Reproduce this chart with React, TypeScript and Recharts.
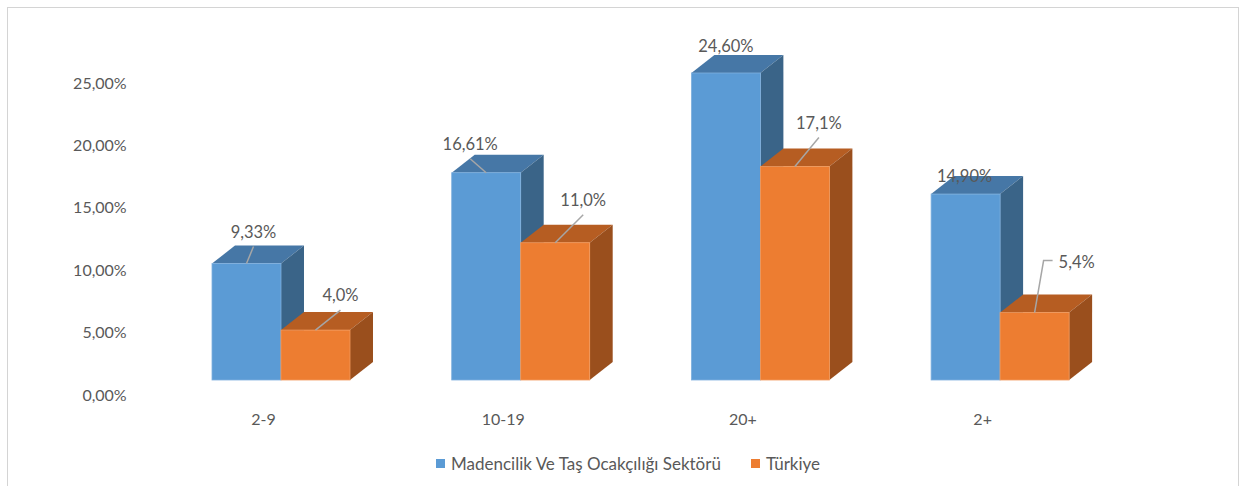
import React from "react";
import { BarChart, Bar, XAxis, YAxis, Legend, LabelList } from "recharts";

// ---- data ----
const categories = ["2-9", "10-19", "20+", "2+"];
const madencilik = [9.33, 16.61, 24.6, 14.9];
const turkiye = [4.0, 11.0, 17.1, 5.4];
const yTicks = [0, 5, 10, 15, 20, 25];
const seriesNames = ["Madencilik Ve Taş Ocakçılığı Sektörü", "Türkiye"];

const data = categories.map((c, i) => ({ cat: c, mad: madencilik[i], tr: turkiye[i] }));

// ---- styling ----
const FONT = "Lato, 'Open Sans', sans-serif";
const TEXT = "#595959";
const DX = 23;
const DY = 18;
const PAL = {
  blue: { front: "#5B9BD5", top: "#4677A6", side: "#3A6488", edge: "#7FB0DE" },
  orange: { front: "#ED7D31", top: "#B65D22", side: "#9A4F1D", edge: "#F29A5C" },
};

// per-label placement (offset of label centre from the front-top-centre of the bar)
const blueLabelPos = [
  { dx: 7, dy: -32, leader: "below" },
  { dx: -16, dy: -29, leader: "below" },
  { dx: 0, dy: -27, leader: "none" },
  { dx: -1, dy: -18, leader: "none" },
];
const orangeLabelPos = [
  { dx: 25, dy: -35, leader: "below" },
  { dx: 28, dy: -43, leader: "below" },
  { dx: 24, dy: -44, leader: "below" },
  { dx: 42, dy: -51, leader: "elbow" },
];

const Box3D = (props: any) => {
  const { x, y, width, height, pal } = props;
  if (width == null || height == null) return null;
  const x2 = x + width;
  const yb = y + height;
  return (
    <g>
      <polygon
        points={`${x},${y} ${x2},${y} ${x2 + DX},${y - DY} ${x + DX},${y - DY}`}
        fill={pal.top}
      />
      <polygon
        points={`${x2},${y} ${x2 + DX},${y - DY} ${x2 + DX},${yb - DY} ${x2},${yb}`}
        fill={pal.side}
      />
      <rect x={x} y={y} width={width} height={height} fill={pal.front} stroke={pal.edge} strokeWidth={0.8} />
    </g>
  );
};

const fmt = (v: number, d: number) => v.toFixed(d).replace(".", ",") + "%";

const DataLabel = (props: any) => {
  const { x, y, width, value, index, positions, decimals } = props;
  const pos = positions[index];
  const ax = x + width / 2;
  const ay = y;
  const cx = ax + pos.dx;
  const cy = ay + pos.dy;
  let leader: React.ReactNode = null;
  if (pos.leader === "below") {
    leader = <line x1={ax} y1={ay} x2={cx} y2={cy + 15} stroke="#A6A6A6" strokeWidth={1.5} />;
  } else if (pos.leader === "elbow") {
    leader = (
      <polyline
        points={`${ax},${ay} ${ax + 9},${cy - 1} ${ax + 18},${cy - 1}`}
        fill="none"
        stroke="#A6A6A6"
        strokeWidth={1.5}
      />
    );
  }
  const isElbow = pos.leader === "elbow";
  return (
    <g>
      {leader}
      <text
        x={isElbow ? ax + 24 : cx}
        y={cy}
        textAnchor={isElbow ? "start" : "middle"}
        dominantBaseline="central"
        fill={TEXT}
        fontSize={16.5}
        fontFamily={FONT}
      >
        {fmt(Number(value), decimals)}
      </text>
    </g>
  );
};

const YTick = (props: any) => {
  const { x, y, payload } = props;
  return (
    <text x={x} y={y + 14} textAnchor="end" dominantBaseline="central" fill={TEXT} fontSize={16} fontFamily={FONT}>
      {fmt(payload.value, 2)}
    </text>
  );
};

const XTick = (props: any) => {
  const { x, y, payload } = props;
  return (
    <text x={x - 17} y={y + 38} textAnchor="middle" dominantBaseline="central" fill={TEXT} fontSize={16} fontFamily={FONT}>
      {payload.value}
    </text>
  );
};

const LegendContent = (props: any) => {
  const items = props.payload || [];
  return (
    <div style={{ display: "flex", alignItems: "center", paddingLeft: 436, height: 22, fontFamily: FONT, fontSize: 17, color: TEXT }}>
      {items.map((it: any, i: number) => (
        <div key={i} style={{ display: "flex", alignItems: "center", marginRight: 30 }}>
          <span style={{ display: "inline-block", width: 9, height: 9, background: it.color, marginRight: 6 }} />
          <span style={{ whiteSpace: "nowrap" }}>{it.value}</span>
        </div>
      ))}
    </div>
  );
};

export default function App() {
  return (
    <div style={{ position: "absolute", left: 0, top: 0, width: 1239, height: 486, background: "#fff", overflow: "hidden" }}>
      <div
        style={{
          position: "absolute",
          left: 7,
          top: 7,
          width: 1232,
          height: 500,
          boxSizing: "border-box",
          border: "1px solid #D4D4D4",
        }}
      />
      <div style={{ position: "absolute", left: 0, top: 0 }}>
        <BarChart
          width={1239}
          height={486}
          data={data}
          margin={{ top: 68, right: 119.5, left: 0, bottom: 0 }}
          barGap={0}
          barCategoryGap="21.4%"
        >
          <XAxis dataKey="cat" axisLine={false} tickLine={false} tickSize={0} tickMargin={0} height={106} tick={<XTick />} interval={0} />
          <YAxis
            domain={[0, 25]}
            ticks={yTicks}
            width={160.7}
            axisLine={false}
            tickLine={false}
            tickSize={0}
            tickMargin={34}
            tick={<YTick />}
          />
          <Legend
            verticalAlign="middle"
            align="center"
            layout="horizontal"
            wrapperStyle={{ top: 452, left: 0, width: 1239, height: 22 }}
            content={<LegendContent />}
          />
          <Bar
            dataKey="mad"
            name={seriesNames[0]}
            fill={PAL.blue.front}
            isAnimationActive={false}
            shape={(p: any) => <Box3D {...p} pal={PAL.blue} />}
          >
            <LabelList dataKey="mad" content={(p: any) => <DataLabel {...p} positions={blueLabelPos} decimals={2} />} />
          </Bar>
          <Bar
            dataKey="tr"
            name={seriesNames[1]}
            fill={PAL.orange.front}
            isAnimationActive={false}
            shape={(p: any) => <Box3D {...p} pal={PAL.orange} />}
          >
            <LabelList dataKey="tr" content={(p: any) => <DataLabel {...p} positions={orangeLabelPos} decimals={1} />} />
          </Bar>
        </BarChart>
      </div>
    </div>
  );
}
